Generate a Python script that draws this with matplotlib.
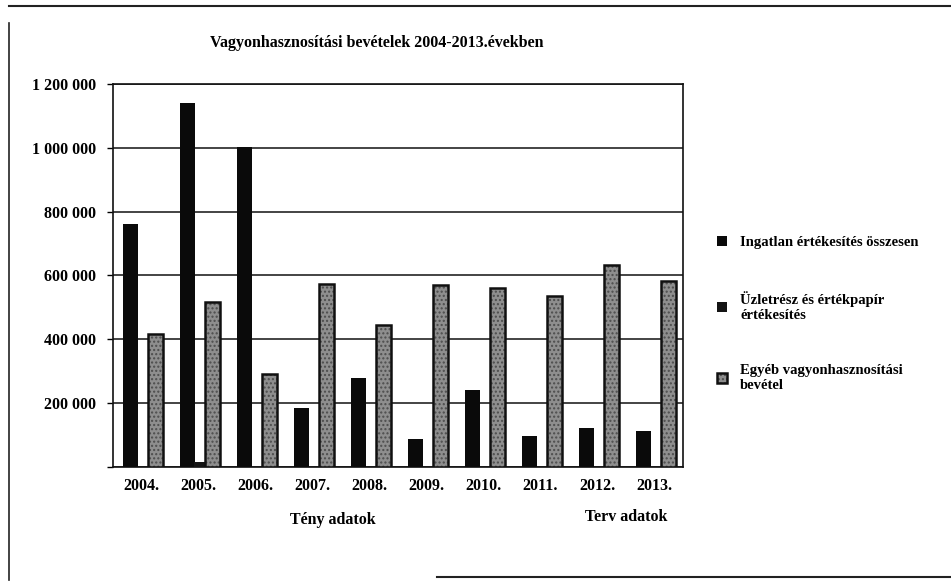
import matplotlib
matplotlib.use("Agg")
import matplotlib.pyplot as plt
import numpy as np
from matplotlib.lines import Line2D

plt.rcParams['font.family'] = ['Liberation Serif', 'DejaVu Serif']

years = ['2004.', '2005.', '2006.', '2007.', '2008.', '2009.', '2010.', '2011.', '2012.', '2013.']
ingatlan = [760000, 1140000, 1002000, 185000, 280000, 87000, 242000, 97000, 121000, 113000]
uzletresz = [0, 16000, 0, 0, 0, 0, 0, 0, 0, 0]
egyeb = [416000, 516000, 290000, 574000, 444000, 571000, 560000, 537000, 632000, 582000]
labels = ['Ingatlan értékesítés összesen',
          'Üzletrész és értékpapír\nértékesítés',
          'Egyéb vagyonhasznosítási\nbevétel']
yticks = [0, 200000, 400000, 600000, 800000, 1000000, 1200000]
ytick_labels = ['', '200 000', '400 000', '600 000', '800 000', '1 000 000', '1 200 000']

fig = plt.figure(figsize=(9.51, 5.86), dpi=100)
ax = fig.add_axes([0.1188, 0.2031, 0.5994, 0.6536])

x = np.arange(len(years))
b1 = ax.bar(x - 0.19, ingatlan, width=0.26, color='#0a0a0a', zorder=3, label=labels[0])
b2 = ax.bar(x + 0.02, uzletresz, width=0.2, color='#141414', zorder=3, label=labels[1])
b3 = ax.bar(x + 0.25, egyeb, width=0.26, color='#8e8e8e', edgecolor='#101010',
            linewidth=1.8, hatch='....', zorder=3, label=labels[2])
for p in b3:
    p._hatch_color = (0.3, 0.3, 0.3, 1.0)

ax.set_xlim(-0.5, len(years) - 0.5)
ax.set_ylim(0, 1200000)
ax.set_yticks(yticks)
ax.set_yticklabels(ytick_labels)
ax.set_xticks(x)
ax.set_xticklabels(years)
ax.yaxis.grid(True, color='#111111', linewidth=1.1, zorder=0)
ax.tick_params(axis='y', length=4, width=1, labelsize=11.5, pad=8)
ax.tick_params(axis='x', length=0, labelsize=11.5, pad=8)
for lab in ax.get_xticklabels() + ax.get_yticklabels():
    lab.set_fontweight('bold')
for side in ['left', 'bottom', 'right', 'top']:
    ax.spines[side].set_color('#111111')
    ax.spines[side].set_linewidth(1.2)

fig.text(0.396, 0.926, 'Vagyonhasznosítási bevételek 2004-2013.években',
         ha='center', va='center', fontsize=11.5, fontweight='bold')
fig.text(0.35, 0.112, 'Tény adatok', ha='center', va='center', fontsize=11.5, fontweight='bold')
fig.text(0.658, 0.118, 'Terv adatok', ha='center', va='center', fontsize=11.5, fontweight='bold')

leg = fig.legend(handles=[b1, b2, b3], loc='upper left', bbox_to_anchor=(0.74, 0.62),
                 frameon=False, fontsize=10.5, handlelength=0.7, handleheight=0.7,
                 handletextpad=0.9, labelspacing=2.9)
for t in leg.get_texts():
    t.set_fontweight('bold')

# frame of the scanned page
fig.add_artist(Line2D([0.009, 0.009], [0.01, 0.96], color='#222222', lw=1.2))
fig.add_artist(Line2D([0.009, 1.0], [0.99, 0.99], color='#222222', lw=1.5))
fig.add_artist(Line2D([0.46, 1.0], [0.015, 0.015], color='#222222', lw=1.5))

fig.savefig('out.png', dpi=100)
